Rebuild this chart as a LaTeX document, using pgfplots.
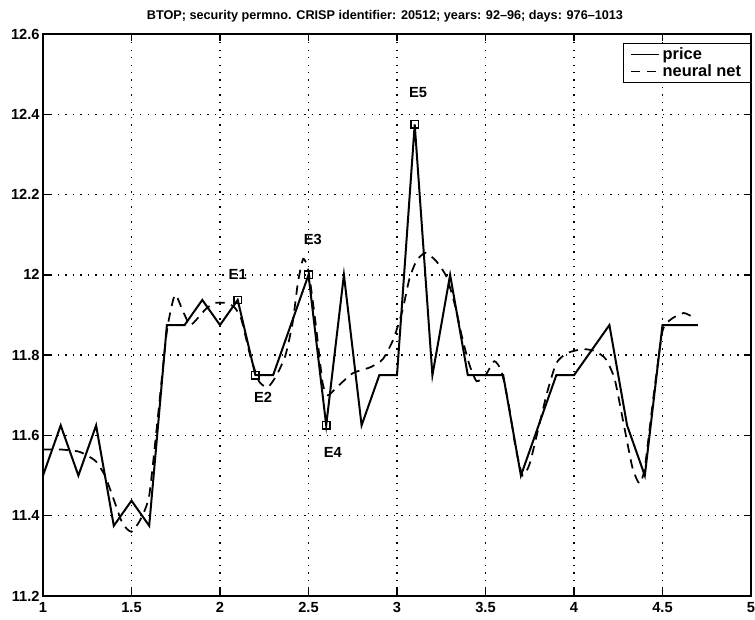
\documentclass[border=0pt]{standalone}
\usepackage{pgfplots}
\pgfplotsset{compat=1.18}
\usepackage{fontspec}
\setmainfont{Liberation Sans}

% daily closing price, days 976-1013
\pgfplotstableread{
x y
1.0 11.5
1.1 11.625
1.2 11.5
1.3 11.625
1.4 11.375
1.5 11.4375
1.6 11.375
1.7 11.875
1.8 11.875
1.9 11.9375
2.0 11.875
2.1 11.9375
2.2 11.75
2.3 11.75
2.4 11.875
2.5 12.0
2.6 11.625
2.7 12.0
2.8 11.625
2.9 11.75
3.0 11.75
3.1 12.375
3.2 11.75
3.3 12.0
3.4 11.75
3.5 11.75
3.6 11.75
3.7 11.5
3.8 11.625
3.9 11.75
4.0 11.75
4.1 11.8125
4.2 11.875
4.3 11.625
4.4 11.5
4.5 11.875
4.6 11.875
4.7 11.875
}\pricetable

% neural network output
\pgfplotstableread{
x y
1.00 11.565
1.10 11.565
1.20 11.56
1.25 11.55
1.30 11.535
1.35 11.50
1.40 11.44
1.45 11.38
1.50 11.36
1.55 11.39
1.60 11.45
1.65 11.65
1.70 11.86
1.745 11.95
1.79 11.91
1.83 11.875
1.87 11.89
1.92 11.915
1.97 11.93
2.03 11.93
2.08 11.92
2.12 11.89
2.17 11.80
2.22 11.735
2.27 11.72
2.32 11.75
2.37 11.80
2.41 11.88
2.44 11.98
2.47 12.04
2.50 12.01
2.54 11.88
2.58 11.73
2.61 11.70
2.66 11.72
2.75 11.755
2.85 11.77
2.92 11.79
2.98 11.84
3.03 11.91
3.07 11.99
3.11 12.035
3.16 12.055
3.22 12.035
3.28 11.995
3.33 11.92
3.37 11.84
3.41 11.775
3.45 11.735
3.50 11.75
3.55 11.785
3.59 11.76
3.63 11.68
3.67 11.57
3.71 11.50
3.75 11.53
3.80 11.62
3.85 11.71
3.90 11.78
3.96 11.805
4.05 11.815
4.12 11.81
4.18 11.79
4.23 11.74
4.28 11.63
4.33 11.52
4.37 11.48
4.40 11.52
4.45 11.70
4.50 11.86
4.55 11.89
4.62 11.905
4.67 11.895
}\nettable

% marked events E1-E5
\pgfplotstableread{
x y
2.1 11.9375
2.2 11.75
2.5 12.0
2.6 11.625
3.1 12.375
}\eventtable

\begin{document}
\begin{tikzpicture}
\begin{axis}[
  scale only axis,
  width=531pt, height=421.5pt,
  xmin=1, xmax=5, ymin=11.2, ymax=12.6,
  xtick={1,1.5,2,2.5,3,3.5,4,4.5,5},
  ytick={11.2,11.4,11.6,11.8,12,12.2,12.4,12.6},
  xticklabels={1,1.5,2,2.5,3,3.5,4,4.5,5},
  yticklabels={11.2,11.4,11.6,11.8,12,12.2,12.4,12.6},
  tick align=inside, xtick pos=both, ytick pos=both,
  major tick length=5pt,
  every tick/.style={black, line width=1pt},
  axis line style={line width=1.3pt},
  grid=major,
  major grid style={black, line width=1pt, dash pattern=on 1pt off 4.6pt},
  tick label style={font=\bfseries\fontsize{11}{12}\selectfont},
  xticklabel style={yshift=-1pt},
  yticklabel style={xshift=1pt},
  /pgf/number format/assume math mode=true,
  title={BTOP; security permno. CRISP identifier: 20512; years: 92--96; days: 976--1013},
  title style={font=\bfseries\fontsize{9.5}{10}\selectfont, anchor=south, yshift=-1pt, xshift=-9pt},
  legend style={at={(1,0.984)}, anchor=north east, draw=black, line width=0.9pt,
    font=\bfseries\fontsize{12.3}{14}\selectfont, inner xsep=5pt, inner ysep=1pt, row sep=-1.5pt,
    cells={anchor=west}},
  legend cell align=left,
  legend image code/.code={\draw[#1] (0cm,0cm) -- (0.75cm,0cm);},
  legend image post style={line width=1.1pt},
]
\addplot[black, line width=1.5pt] table[x=x, y=y] {\pricetable};
\addlegendentry{price}
\addplot[black, line width=1.3pt, dash pattern=on 7pt off 5pt, smooth, tension=0.35] table[x=x, y=y] {\nettable};
\addlegendentry{neural net}
\addplot[only marks, mark=square, mark size=2.8pt, mark options={black, line width=1pt, solid}, forget plot] table[x=x, y=y] {\eventtable};
\node[font=\bfseries\fontsize{11}{12}\selectfont] at (axis cs:2.1,12.0) {E1};
\node[font=\bfseries\fontsize{11}{12}\selectfont] at (axis cs:2.243,11.696) {E2};
\node[font=\bfseries\fontsize{11}{12}\selectfont] at (axis cs:2.525,12.087) {E3};
\node[font=\bfseries\fontsize{11}{12}\selectfont] at (axis cs:2.638,11.557) {E4};
\node[font=\bfseries\fontsize{11}{12}\selectfont] at (axis cs:3.119,12.453) {E5};
\end{axis}
% frame the page tightly around the axis box, its labels and the title
\pgfresetboundingbox
\path[use as bounding box] ([xshift=-32.25pt,yshift=-17.25pt]current axis.south west)
  rectangle ([xshift=3pt,yshift=25.5pt]current axis.north east);
\end{tikzpicture}
\end{document}
